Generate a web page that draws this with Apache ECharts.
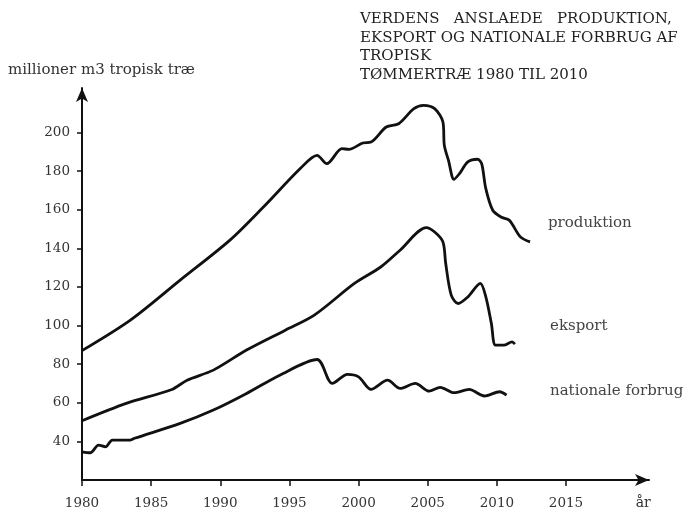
<!DOCTYPE html>
<html>
<head>
    <meta charset="utf-8">
    <title>Tropisk tømmertræ 1980-2010</title>
    <script src="https://cdn.jsdelivr.net/npm/echarts@6/dist/echarts.min.js"></script>
    <style>
        html, body { margin: 0; padding: 0; background: #fff; }
        #chart1 { width: 693px; height: 517px; }
    </style>
</head>
<body>
<div id="chart1"></div>
<script type="text/javascript">

    // produktion
    var prodYears  = [1980, 1983.5, 1987.1, 1990.7, 1993.1, 1995.8, 1997.0, 1997.7, 1998.8, 1999.3, 2000.3, 2000.9, 2002.0, 2002.9, 2004.0, 2004.7, 2005.5, 2006.1, 2006.2, 2006.5, 2006.9, 2007.3, 2007.9, 2008.6, 2008.9, 2009.2, 2009.7, 2010.3, 2010.9, 2011.7, 2012.4];
    var prodValues = [87, 102.8, 123.5, 144.2, 161.2, 181.4, 188.1, 183.8, 191.6, 191.2, 194.5, 195.0, 202.8, 204.5, 212.3, 214.0, 212.3, 205.4, 193.3, 185.5, 175.7, 178.7, 184.7, 186.1, 183.8, 170.9, 159.7, 156.2, 154.5, 145.9, 143.3];

    // eksport
    var eksYears  = [1980, 1983.2, 1986.5, 1987.6, 1989.5, 1991.9, 1994.7, 1996.8, 1999.7, 2001.6, 2003.0, 2004.9, 2005.5, 2006.1, 2006.3, 2006.7, 2007.2, 2007.9, 2008.8, 2009.2, 2009.6, 2009.9, 2010.5, 2011.1, 2011.3];
    var eksValues = [50.7, 59.7, 66.9, 71.7, 76.9, 87.3, 97.6, 105.4, 121.8, 130.3, 139.0, 150.7, 148.4, 143.3, 132.1, 115.7, 111.4, 114.8, 121.8, 114.8, 101.1, 89.8, 89.8, 91.5, 90.4];

    // nationale forbrug
    var natYears  = [1980, 1980.6, 1981.2, 1981.7, 1982.2, 1983.5, 1983.8, 1987.1, 1989.5, 1991.9, 1994.3, 1997.0, 1998.1, 1999.2, 2000.0, 2000.9, 2002.1, 2003.0, 2004.1, 2005.1, 2005.9, 2006.9, 2008.0, 2009.1, 2010.2, 2010.7];
    var natValues = [34.6, 34.1, 38.1, 37.2, 40.7, 40.7, 41.6, 49.3, 56.2, 64.8, 74.3, 82.4, 70.0, 74.7, 73.4, 66.9, 71.7, 67.4, 70.0, 66.0, 68.0, 65.2, 66.9, 63.5, 65.7, 64.0];

    // akser
    var xTickYears  = [1980, 1985, 1990, 1995, 2000, 2005, 2010, 2015];
    var xLabelYears = [1980, 1985, 1990, 1995, 2000, 2005, 2010, 2015, 2020];
    var yTicks = [40, 60, 80, 100, 120, 140, 160, 180, 200];

    var seriesNames = ['produktion', 'eksport', 'nationale forbrug'];
    var titleLines = ['VERDENS   ANSLAEDE   PRODUKTION,', 'EKSPORT OG NATIONALE FORBRUG AF', 'TROPISK', 'TØMMERTRÆ 1980 TIL 2010'];
    var yName = 'millioner m3 tropisk træ';

    function pairs(xs, ys) {
        return xs.map(function (x, i) { return [x, ys[i]]; });
    }

    var serif = 'DejaVu Serif';
    var myChart1 = echarts.init(document.getElementById('chart1'));

    function lineSeries(name, xs, ys) {
        return {
            name: name,
            type: 'line',
            data: pairs(xs, ys),
            smooth: 0.3,
            showSymbol: false,
            lineStyle: { color: '#111', width: 2.8 },
            silent: true
        };
    }

    myChart1.setOption({
        backgroundColor: '#fff',
        animation: false,
        title: {//标题
            text: titleLines.join('\n'),
            left: 355,
            top: 5,
            textStyle: { fontFamily: serif, fontSize: 15, fontWeight: 'normal', color: '#222', lineHeight: 18.5 }
        },
        grid: { left: 82, right: 44, top: 88, bottom: 37 },
        xAxis: {
            type: 'value',
            min: 1980,
            max: 2021,
            interval: 5,
            splitLine: { show: false },
            axisLine: { lineStyle: { color: '#111', width: 2 }, symbol: ['none', 'arrow'], symbolSize: [9, 14] },
            axisTick: { customValues: xTickYears, length: 6, lineStyle: { color: '#111', width: 1.5 } },
            axisLabel: {
                customValues: xLabelYears,
                margin: 16,
                fontFamily: serif, fontSize: 13.5, color: '#333',
                formatter: function (v) { return v === 2020 ? '{a|år}' : String(v); },
                rich: { a: { fontFamily: serif, fontSize: 14, color: '#333', padding: [0, 0, 0, 16] } }
            }
        },
        yAxis: {
            type: 'value',
            min: 20,
            max: 223,
            interval: 20,
            splitLine: { show: false },
            axisLine: { lineStyle: { color: '#111', width: 2 }, symbol: ['none', 'arrow'], symbolSize: [9, 14] },
            axisTick: { customValues: yTicks, length: 5, lineStyle: { color: '#111', width: 1.5 } },
            axisLabel: { customValues: yTicks, margin: 12, fontFamily: serif, fontSize: 13.5, color: '#333' }
        },
        graphic: [
            { type: 'text', left: 8, top: 63, style: { text: yName, fontFamily: serif, fontSize: 15, fill: '#333' } },
            { type: 'text', left: 548, top: 216, style: { text: seriesNames[0], fontFamily: serif, fontSize: 15, fill: '#444' } },
            { type: 'text', left: 550, top: 319, style: { text: seriesNames[1], fontFamily: serif, fontSize: 15, fill: '#444' } },
            { type: 'text', left: 550, top: 384, style: { text: seriesNames[2], fontFamily: serif, fontSize: 15, fill: '#444' } }
        ],
        series: [
            lineSeries(seriesNames[0], prodYears, prodValues),
            lineSeries(seriesNames[1], eksYears, eksValues),
            lineSeries(seriesNames[2], natYears, natValues)
        ]
    });
</script>
</body>
</html>
